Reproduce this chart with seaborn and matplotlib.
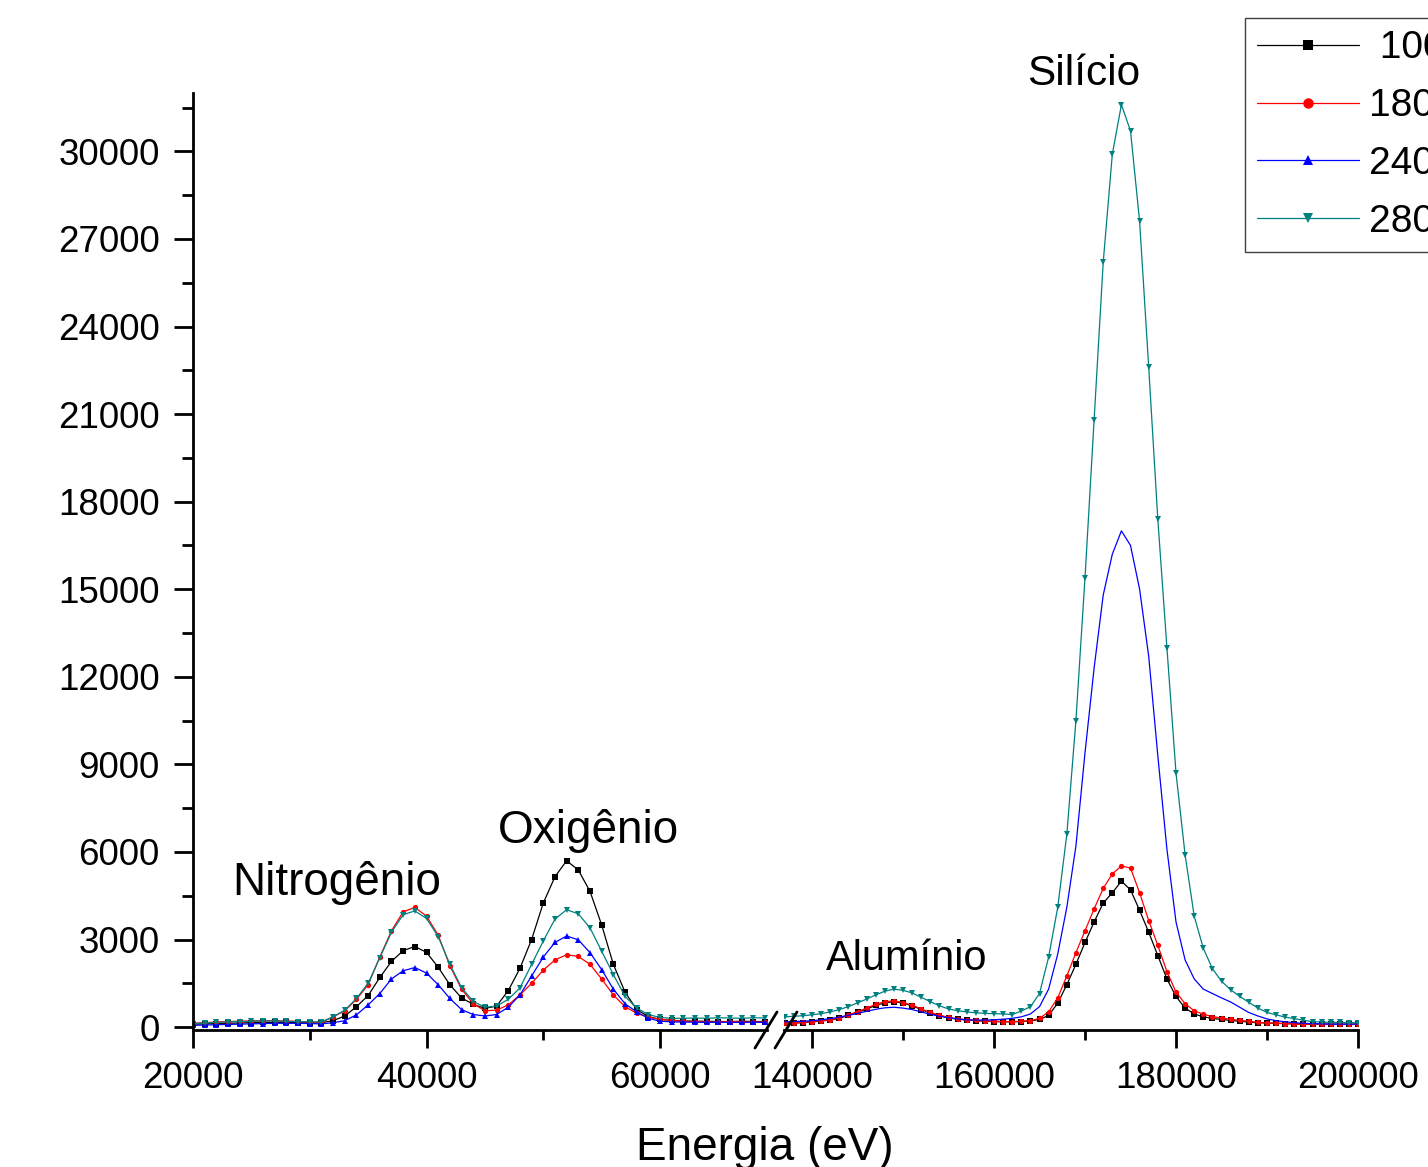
import pandas as pd
import seaborn as sns
import matplotlib.pyplot as plt
from matplotlib.lines import Line2D
from matplotlib.ticker import MultipleLocator, StrMethodFormatter

# energia (eV) - trecho esquerdo e trecho direito do eixo quebrado
x_esq = [20000, 21000, 22000, 23000, 24000, 25000, 26000, 27000, 28000, 29000,
         30000, 31000, 32000, 33000, 34000, 35000, 36000, 37000, 38000, 39000,
         40000, 41000, 42000, 43000, 44000, 45000, 46000, 47000, 48000, 49000,
         50000, 51000, 52000, 53000, 54000, 55000, 56000, 57000, 58000, 59000,
         60000, 61000, 62000, 63000, 64000, 65000, 66000, 67000, 68000, 69000]
x_dir = [137000, 138000, 139000, 140000, 141000, 142000, 143000, 144000,
         145000, 146000, 147000, 148000, 149000, 150000, 151000, 152000,
         153000, 154000, 155000, 156000, 157000, 158000, 159000, 160000,
         161000, 162000, 163000, 164000, 165000, 166000, 167000, 168000,
         169000, 170000, 171000, 172000, 173000, 174000, 175000, 176000,
         177000, 178000, 179000, 180000, 181000, 182000, 183000, 184000,
         185000, 186000, 187000, 188000, 189000, 190000, 191000, 192000,
         193000, 194000, 195000, 196000, 197000, 198000, 199000, 200000]

rotulos = [' 100', '180', '240', '280']
cores = ['#000000', '#ff0000', '#0000ff', '#008080']
marcadores = ['s', 'o', '^', 'v']
# no trecho direito a curva azul aparece sem marcadores
marcadores_dir = ['s', 'o', None, 'v']

# contagens - trecho esquerdo (Nitrogenio e Oxigenio)
preto_esq = [100, 110, 120, 130, 140, 150, 160, 160, 160, 150,
             150, 150, 220, 380, 700, 1080, 1700, 2250, 2620, 2760,
             2560, 2050, 1450, 1000, 780, 640, 720, 1250, 2010, 3000,
             4250, 5150, 5700, 5380, 4650, 3500, 2150, 1200, 600, 360,
             260, 230, 210, 200, 200, 190, 190, 200, 190, 190]
vermelho_esq = [130, 150, 170, 190, 200, 210, 220, 220, 210, 190,
                170, 160, 350, 560, 950, 1450, 2400, 3300, 3950, 4100,
                3800, 3150, 2100, 1300, 800, 560, 580, 760, 1100, 1500,
                1950, 2300, 2480, 2420, 2150, 1650, 1100, 700, 470, 340,
                270, 230, 200, 190, 180, 180, 190, 180, 180, 180]
azul_esq = [60, 70, 80, 90, 100, 110, 120, 130, 130, 130,
            120, 110, 150, 220, 420, 760, 1150, 1650, 1930, 2040,
            1850, 1450, 980, 600, 430, 380, 430, 680, 1100, 1750,
            2400, 2900, 3120, 2990, 2550, 1970, 1300, 800, 520, 300,
            200, 180, 170, 170, 160, 170, 160, 160, 170, 160]
verde_esq = [120, 140, 160, 180, 190, 200, 210, 210, 200, 190,
             180, 180, 350, 580, 980, 1500, 2380, 3250, 3850, 3980,
             3720, 3100, 2150, 1350, 880, 680, 720, 950, 1340, 2150,
             2950, 3700, 4020, 3880, 3400, 2600, 1800, 1050, 650, 430,
             330, 300, 300, 310, 300, 320, 310, 300, 320, 310]

# contagens - trecho direito (Aluminio e Silicio)
preto_dir = [130, 140, 150, 180, 210, 240, 300, 400, 500, 620, 740, 830,
             870, 820, 730, 600, 480, 390, 320, 270, 240, 220, 200, 190,
             180, 180, 190, 210, 260, 400, 820, 1450, 2150, 2900, 3600, 4250,
             4600, 5000, 4700, 4000, 3250, 2450, 1650, 1050, 650, 450, 350, 300,
             260, 230, 200, 170, 150, 140, 130, 120, 110, 100, 100, 100,
             100, 100, 100, 100]
vermelho_dir = [130, 140, 160, 190, 220, 250, 320, 420, 530, 650, 780, 870,
                900, 840, 750, 620, 500, 410, 330, 280, 250, 230, 210, 200,
                190, 190, 200, 220, 300, 520, 1000, 1750, 2550, 3300, 4050, 4750,
                5250, 5520, 5450, 4600, 3650, 2800, 1900, 1200, 800, 560, 440, 360,
                310, 270, 230, 200, 160, 140, 130, 120, 110, 100, 100, 90,
                90, 90, 90, 90]
azul_dir = [180, 190, 200, 220, 250, 290, 340, 400, 470, 540, 610, 660,
            680, 650, 600, 520, 440, 370, 320, 280, 250, 240, 240, 250,
            270, 300, 350, 450, 700, 1300, 2500, 4100, 6200, 9400, 12300, 14800,
            16200, 17000, 16500, 15000, 12700, 9300, 6100, 3600, 2300, 1650, 1300, 1150,
            1000, 860, 680, 500, 380, 280, 220, 180, 150, 130, 120, 110,
            100, 100, 100, 100]
verde_dir = [350, 370, 390, 420, 460, 520, 600, 700, 830, 960, 1100, 1230,
             1300, 1260, 1170, 1020, 870, 730, 620, 560, 520, 490, 470, 460,
             450, 430, 550, 700, 1150, 2400, 4100, 6600, 10500, 15400, 20800, 26200,
             29900, 31600, 30700, 27600, 22600, 17400, 13000, 8700, 5900, 3800, 2700, 2000,
             1570, 1280, 1050, 850, 650, 500, 420, 340, 290, 230, 190, 170,
             160, 160, 150, 150]

series_esq = [preto_esq, vermelho_esq, azul_esq, verde_esq]
series_dir = [preto_dir, vermelho_dir, azul_dir, verde_dir]

sns.set_style('ticks')
plt.rcParams['font.family'] = ['Liberation Sans', 'DejaVu Sans']
plt.rcParams.update({'text.color': 'black', 'axes.edgecolor': 'black',
                     'axes.labelcolor': 'black', 'xtick.color': 'black',
                     'ytick.color': 'black'})

W, H = 1428, 1167
fig = plt.figure(figsize=(W / 100, H / 100), dpi=100)
baixo = 1 - 1030 / H
altura = (1030 - 93) / H
ax_esq = fig.add_axes([193 / W, baixo, (767 - 193) / W, altura])
ax_dir = fig.add_axes([784 / W, baixo, (1358 - 784) / W, altura], sharey=ax_esq)

for i in range(4):
    sns.lineplot(x=x_esq, y=series_esq[i], ax=ax_esq, color=cores[i],
                 marker=marcadores[i], markersize=3.8, markeredgewidth=0,
                 linewidth=0.9, legend=False)
    sns.lineplot(x=x_dir, y=series_dir[i], ax=ax_dir, color=cores[i],
                 marker=marcadores_dir[i], markersize=3.8, markeredgewidth=0,
                 linewidth=0.9, legend=False)

ax_esq.set_xlim(20000, 69160)
ax_dir.set_xlim(136920, 200000)
ax_esq.set_ylim(-100, 32000)

for ax in (ax_esq, ax_dir):
    ax.spines['top'].set_visible(False)
    ax.spines['right'].set_visible(False)
    for s in ax.spines.values():
        s.set_linewidth(2)
    ax.xaxis.set_major_locator(MultipleLocator(20000))
    ax.xaxis.set_minor_locator(MultipleLocator(10000))
    ax.xaxis.set_major_formatter(StrMethodFormatter('{x:.0f}'))
    ax.tick_params(axis='x', which='major', length=13, width=2, pad=9,
                   labelsize=26.5, direction='out')
    ax.tick_params(axis='x', which='minor', length=7, width=2, direction='out')
    ax.set_xlabel('')
    ax.set_ylabel('')

ax_dir.spines['left'].set_visible(False)
ax_dir.tick_params(axis='y', which='both', left=False, labelleft=False)

ax_esq.yaxis.set_major_locator(MultipleLocator(3000))
ax_esq.yaxis.set_minor_locator(MultipleLocator(1500))
ax_esq.yaxis.set_major_formatter(StrMethodFormatter('{x:.0f}'))
ax_esq.tick_params(axis='y', which='major', length=14, width=2, pad=10,
                   labelsize=26.5, direction='out')
ax_esq.tick_params(axis='y', which='minor', length=8, width=2, direction='out')

# nomes dos picos
ax_esq.text(32330, 4520, 'Nitrogênio', fontsize=33, ha='center', va='baseline')
ax_esq.text(53830, 6300, 'Oxigênio', fontsize=33, ha='center', va='baseline')
ax_dir.text(150380, 1950, 'Alumínio', fontsize=30, ha='center', va='baseline')
ax_dir.text(169840, 32260, 'Silício', fontsize=30.5, ha='center', va='baseline')

fig.text(765 / W, 0.006, 'Energia (eV)', fontsize=33, ha='center', va='baseline')

# marcas da quebra do eixo
for dx in (0, 20):
    fig.add_artist(Line2D([(755 + dx) / W, (777 + dx) / W],
                          [1 - 1048 / H, 1 - 1012 / H],
                          transform=fig.transFigure, color='black', lw=2))

# legenda com as quatro series (linha + marcador)
handles = [Line2D([], [], color=cores[i], marker=marcadores[i], markersize=3,
                  markeredgewidth=0, linewidth=0.9) for i in range(4)]
fig.legend(handles, rotulos, loc='upper left',
           bbox_to_anchor=(1245 / W, 1 - 18 / H), borderaxespad=0,
           fontsize=28, frameon=True, fancybox=False, edgecolor='#404040',
           framealpha=1, borderpad=0.32, handlelength=2.6, handletextpad=0.28,
           labelspacing=0.56, markerscale=2.5)

fig.savefig('out.png', dpi=100)
